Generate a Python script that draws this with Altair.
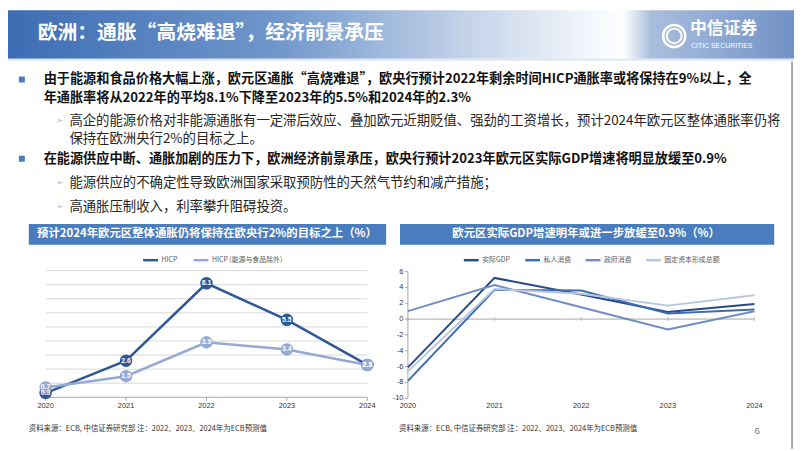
import altair as alt
import pandas as pd

W, H = 794, 443
OFF = 8
CJK = "Noto Sans CJK SC"
LAT = "Liberation Sans"

# ---------------- data ----------------
years = [2020, 2021, 2022, 2023, 2024]
hicp = [0.3, 2.6, 8.1, 5.5, 2.3]
hicp_core = [0.7, 1.5, 3.9, 3.4, 2.3]
left_series = ["HICP", "HICP (能源与食品除外)"]
left_colors = ["#2f5897", "#95a9d3"]
left_grid = [1, 2, 3, 4, 5, 6, 7, 8, 9]

right_series = ["实际GDP", "私人消费", "政府消费", "固定资本形成总额"]
real_gdp = [-6.1, 5.2, 3.1, 0.9, 1.9]
private_cons = [-7.8, 3.7, 3.6, 0.7, 1.2]
gov_cons = [1.0, 4.3, 1.5, -1.3, 1.0]
gfcf = [-6.6, 3.8, 3.2, 1.7, 3.0]
right_colors = ["#284a84", "#3e6cb2", "#6f8dc2", "#b7c7e2"]
right_yticks = [-10, -8, -6, -4, -2, 0, 2, 4, 6]

title_text = "欧洲：通胀“高烧难退”，经济前景承压"
b1_l1 = "由于能源和食品价格大幅上涨，欧元区通胀“高烧难退”，欧央行预计2022年剩余时间HICP通胀率或将保持在9%以上，全"
b1_l2 = "年通胀率将从2022年的平均8.1%下降至2023年的5.5%和2024年的2.3%"
s1_l1 = "高企的能源价格对非能源通胀有一定滞后效应、叠加欧元近期贬值、强劲的工资增长，预计2024年欧元区整体通胀率仍将"
s1_l2 = "保持在欧洲央行2%的目标之上。"
b2_l1 = "在能源供应中断、通胀加剧的压力下，欧洲经济前景承压，欧央行预计2023年欧元区实际GDP增速将明显放缓至0.9%"
s2_l1 = "能源供应的不确定性导致欧洲国家采取预防性的天然气节约和减产措施；"
s3_l1 = "高通胀压制收入，利率攀升阻碍投资。"
left_title = "预计2024年欧元区整体通胀仍将保持在欧央行2%的目标之上（%）"
right_title = "欧元区实际GDP增速明年或进一步放缓至0.9%（%）"
footer = "资料来源：ECB, 中信证券研究部   注：2022、2023、2024年为ECB预测值"

ONE = alt.Data(values=[{"k": 0}])
AXC = "#a6a6a6"


def txt(s, x, y, size, color="#000000", weight="normal", align="left", font=CJK):
    return alt.Chart(ONE).mark_text(
        text=s, fontSize=size, color=color, fontWeight=weight, align=align,
        baseline="middle", font=font
    ).encode(x=alt.value(x - OFF), y=alt.value(y - OFF))


def box(x1, y1, x2, y2, fill):
    return alt.Chart(ONE).mark_rect(fill=fill).encode(
        x=alt.value(x1 - OFF), x2=alt.value(x2 - OFF),
        y=alt.value(max(y1 - OFF, 0)), y2=alt.value(y2 - OFF))


def hline(x1, x2, y, color, w=1):
    return alt.Chart(ONE).mark_rule(color=color, strokeWidth=w).encode(
        x=alt.value(x1 - OFF), x2=alt.value(x2 - OFF), y=alt.value(y - OFF))


def vline(x, y1, y2, color, w=1):
    return alt.Chart(ONE).mark_rule(color=color, strokeWidth=w).encode(
        x=alt.value(x - OFF), y=alt.value(y1 - OFF), y2=alt.value(y2 - OFF))


deco = []
# header band
grad = {"gradient": "linear", "x1": 0, "x2": 1, "y1": 0, "y2": 0,
        "stops": [{"offset": 0, "color": "#3b6bb2"},
                  {"offset": 0.35, "color": "#7097cb"},
                  {"offset": 0.60, "color": "#c8d6eb"},
                  {"offset": 0.785, "color": "#ffffff"},
                  {"offset": 0.82, "color": "#a9bedd"},
                  {"offset": 1, "color": "#7192c6"}]}
deco.append(box(0, 0, 802, 57, grad))
deco.append(hline(0, 802, 58, "#dfe7f2", 2))
deco.append(txt(title_text, 38, 31, 20, "#ffffff", "bold"))
# logo
deco.append(alt.Chart(ONE).mark_point(shape="circle", size=500, filled=False, stroke="#ffffff",
                                      strokeWidth=2.5, opacity=1).encode(x=alt.value(681 - OFF), y=alt.value(34 - OFF)))
deco.append(alt.Chart(ONE).mark_point(shape="circle", size=220, filled=False, stroke="#ffffff",
                                      strokeWidth=2, opacity=1).encode(x=alt.value(681 - OFF), y=alt.value(34 - OFF)))
deco.append(txt("中信证券", 697, 27, 17, "#ffffff", "bold"))
deco.append(txt("CITIC SECURITIES", 698, 44, 7, "#ffffff", "normal", font=LAT))

# bullets
for y in [78, 158]:
    deco.append(box(19, y - 3, 25, y + 3, "#4a7dbd"))
for y in [120, 183, 207]:
    deco.append(txt("➢", 57, y, 8, "#9fb3d6", font="DejaVu Sans"))
deco.append(txt(b1_l1, 44, 78, 13.3, "#111111", "bold"))
deco.append(txt(b1_l2, 44, 97, 13.3, "#111111", "bold"))
deco.append(txt(s1_l1, 70, 120, 13.5, "#262626"))
deco.append(txt(s1_l2, 70, 138, 13.5, "#262626"))
deco.append(txt(b2_l1, 44, 158, 13.3, "#111111", "bold"))
deco.append(txt(s2_l1, 70, 183, 13.5, "#262626"))
deco.append(txt(s3_l1, 70, 207, 13.5, "#262626"))

# chart title bars
deco.append(box(29, 224, 390, 245, "#4a7dbd"))
deco.append(box(404, 224, 782, 245, "#4a7dbd"))
deco.append(txt(left_title, 209, 234.5, 11.5, "#ffffff", "bold", "center"))
deco.append(txt(right_title, 592, 234.5, 11.5, "#ffffff", "bold", "center"))

# footers
deco.append(txt(footer, 29, 431, 7.5, "#333333"))
deco.append(txt(footer, 403, 431, 7.5, "#333333"))
deco.append(txt("6", 762, 433, 10, "#777777", font=LAT))
deco.append(vline(800, 60, 451, "#8c8c8c", 1.5))

# ---------------- left chart ----------------
left_df = pd.DataFrame({
    "year": years * 2,
    "value": hicp + hicp_core,
    "series": [left_series[0]] * len(years) + [left_series[1]] * len(years),
})
left_df["label"] = left_df["value"].map(lambda v: f"{v:.1f}")
years_df = pd.DataFrame({"year": years, "ylab": [str(y) for y in years]})

xL = alt.Scale(domain=[2020, 2024], range=[46 - OFF, 371 - OFF], nice=False, zero=False)
yL = alt.Scale(domain=[0, 9], range=[399 - OFF, 271 - OFF], nice=False, zero=False)
cL = alt.Scale(domain=left_series, range=left_colors)

gridL = alt.Chart(pd.DataFrame({"g": left_grid})).mark_rule(color="#d9d9d9", strokeWidth=1).encode(
    y=alt.Y("g:Q", scale=yL, axis=None),
    x=alt.value(46 - OFF), x2=alt.value(371 - OFF))
axisL = hline(46, 371, 399, AXC)
ticksL = alt.Chart(years_df).mark_rule(color=AXC, strokeWidth=1).encode(
    x=alt.X("year:Q", scale=xL, axis=None),
    y=alt.value(399 - OFF), y2=alt.value(402.5 - OFF))
tlabL = alt.Chart(years_df).mark_text(fontSize=7.5, font=LAT, color="#333333", baseline="middle").encode(
    x=alt.X("year:Q", scale=xL, axis=None),
    y=alt.value(407.5 - OFF), text="ylab:N")

linesL = alt.Chart(left_df).mark_line(strokeWidth=2.5).encode(
    x=alt.X("year:Q", scale=xL, axis=None),
    y=alt.Y("value:Q", scale=yL, axis=None),
    color=alt.Color("series:N", scale=cL, legend=alt.Legend(
        orient="none", legendX=143 - OFF, legendY=251.5 - OFF, direction="horizontal",
        title=None, symbolType="stroke", symbolSize=225, symbolStrokeWidth=2.5,
        labelFontSize=7, labelFont=CJK, labelColor="#595959", labelOffset=2,
        columnPadding=10, padding=0)),
)

pointsL = alt.Chart(left_df).mark_circle(size=160, opacity=1).encode(
    x=alt.X("year:Q", scale=xL, axis=None),
    y=alt.Y("value:Q", scale=yL, axis=None),
    color=alt.Color("series:N", scale=cL, legend=None),
)
labelsL = alt.Chart(left_df).mark_text(fontSize=7, fontWeight="bold", color="#ffffff", font=LAT).encode(
    x=alt.X("year:Q", scale=xL, axis=None),
    y=alt.Y("value:Q", scale=yL, axis=None),
    text="label:N",
)
left_layer = alt.layer(gridL, axisL, ticksL, tlabL, linesL, pointsL, labelsL)

# ---------------- right chart ----------------
right_df = pd.DataFrame({
    "year": years * 4,
    "value": real_gdp + private_cons + gov_cons + gfcf,
    "series": sum([[s] * len(years) for s in right_series], []),
})
yt_df = pd.DataFrame({"t": right_yticks, "tlab": [str(t) for t in right_yticks]})

xR = alt.Scale(domain=[2020, 2024], range=[412 - OFF, 762 - OFF], nice=False, zero=False)
yR = alt.Scale(domain=[-10, 6], range=[400 - OFF, 272 - OFF], nice=False, zero=False)
cR = alt.Scale(domain=right_series, range=right_colors)

zeroR = alt.Chart(pd.DataFrame({"z": [0]})).mark_rule(color=AXC, strokeWidth=1).encode(
    y=alt.Y("z:Q", scale=yR, axis=None),
    x=alt.value(412 - OFF), x2=alt.value(762 - OFF))
yaxisR = vline(412, 272, 400, AXC)
yticksR = alt.Chart(yt_df).mark_rule(color=AXC, strokeWidth=1).encode(
    y=alt.Y("t:Q", scale=yR, axis=None),
    x=alt.value(409 - OFF), x2=alt.value(412 - OFF))
ylabR = alt.Chart(yt_df).mark_text(fontSize=7.5, font=LAT, color="#333333", align="right",
                                   baseline="middle").encode(
    y=alt.Y("t:Q", scale=yR, axis=None),
    x=alt.value(407.5 - OFF), text="tlab:N")
xticksR = alt.Chart(pd.DataFrame({"year": years, "z": [0] * len(years)})).mark_tick(
    orient="vertical", size=4, thickness=1, color=AXC).encode(
    x=alt.X("year:Q", scale=xR, axis=None),
    y=alt.Y("z:Q", scale=yR, axis=None))
xlabR = alt.Chart(years_df).mark_text(fontSize=7.5, font=LAT, color="#333333", baseline="middle").encode(
    x=alt.X("year:Q", scale=xR, axis=None),
    y=alt.value(407.5 - OFF), text="ylab:N")

linesR = alt.Chart(right_df).mark_line(strokeWidth=2).encode(
    x=alt.X("year:Q", scale=xR, axis=None),
    y=alt.Y("value:Q", scale=yR, axis=None),
    color=alt.Color("series:N", scale=cR, legend=alt.Legend(
        orient="none", legendX=467 - OFF, legendY=251.5 - OFF, direction="horizontal",
        title=None, symbolType="stroke", symbolSize=225, symbolStrokeWidth=2.5,
        labelFontSize=7, labelFont=CJK, labelColor="#595959", labelOffset=2,
        columnPadding=9, padding=0)),
    order=alt.Order("year:Q"),
)
right_layer = alt.layer(zeroR, yaxisR, yticksR, ylabR, xticksR, xlabR, linesR)

chart = alt.layer(*deco, left_layer, right_layer).resolve_scale(
    x="independent", y="independent", color="independent"
).resolve_legend(color="independent").properties(
    width=W, height=H, padding=0, autosize="none", background="#ffffff"
).configure_view(strokeWidth=0)

chart.save("out.html", embed_options={"renderer": "svg", "actions": False})
